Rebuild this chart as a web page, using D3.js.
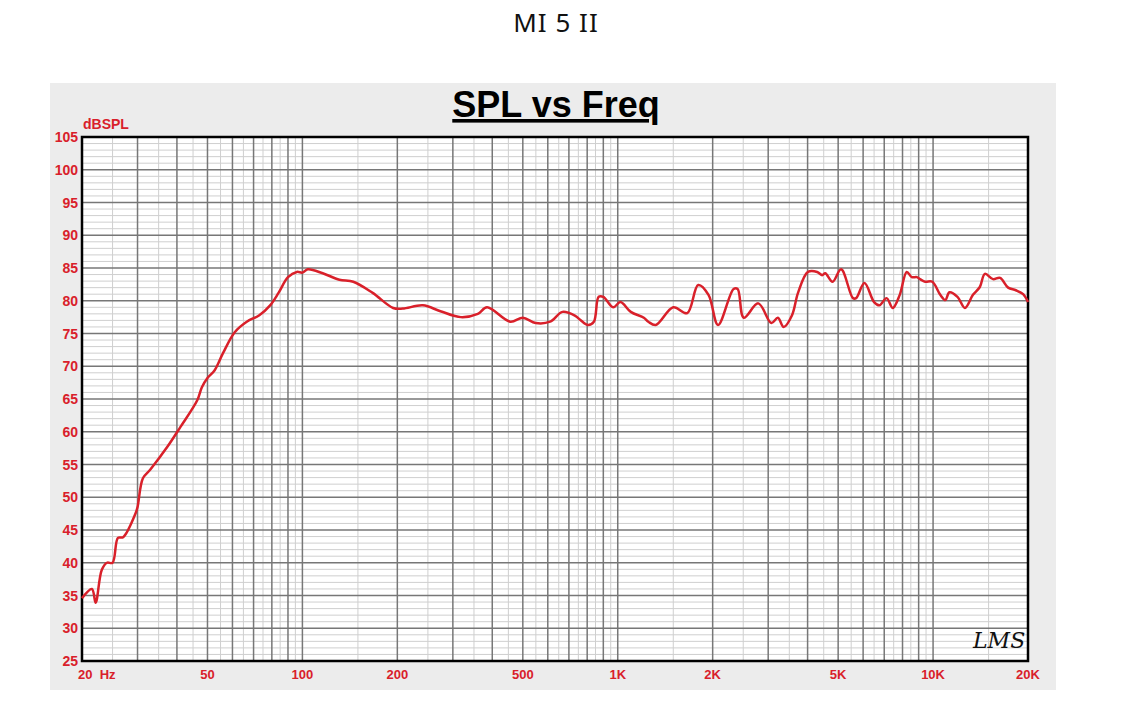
<!DOCTYPE html>
<html><head><meta charset="utf-8">
<script src="https://cdn.jsdelivr.net/npm/d3@7/dist/d3.min.js"></script>
<style>body{margin:0;background:#fff;}svg{display:block;}</style>
</head><body><svg id="c" width="1126" height="708"></svg>
<script>
const freqs=[20,21.5,22.1,23.1,24,25,26,27,29.6,30,31.2,32.9,37.3,41,46.4,48,50,52.7,56,61,66.6,73,79,84,90,96,100,104,116,131,145,167,194,208,241,274,318,360,385,456,500,549,610,668,733,760,805,840,870,900,967,1020,1100,1210,1250,1320,1500,1660,1800,1940,2080,2330,2400,2510,2790,3070,3220,3360,3570,3730,4010,4290,4450,4550,4800,5110,5570,5700,6060,6500,6760,7120,7450,7840,8250,8560,8880,9090,9440,9940,10540,10930,11270,11950,12620,13380,14070,14600,15490,16310,17300,18300,19300,20000];
const spl=[34.6,36.0,33.9,38.9,40.0,40.0,43.8,43.9,47.6,48.5,52.9,54.2,57.7,60.7,64.8,66.8,68.2,69.4,72.0,75.2,76.8,77.8,79.3,81.2,83.6,84.4,84.3,84.8,84.2,83.2,82.9,81.2,78.9,78.8,79.3,78.4,77.5,78.0,79.0,76.8,77.4,76.6,76.8,78.3,77.7,77.1,76.3,76.8,80.6,80.6,79.0,79.8,78.3,77.4,76.8,76.3,79.0,78.1,82.4,80.9,76.3,81.8,81.8,77.4,79.6,76.6,77.4,76.0,77.8,81.2,84.4,84.4,83.9,84.2,82.9,84.8,80.4,80.4,82.7,79.8,79.3,80.4,78.9,80.9,84.4,83.6,83.6,83.3,82.9,82.9,80.9,80.1,81.3,80.6,78.9,80.9,82.1,84.1,83.3,83.5,82.0,81.6,81.0,79.8];
const yTicks=[25,30,35,40,45,50,55,60,65,70,75,80,85,90,95,100,105];
const xTickVals=[20,50,100,200,500,1000,2000,5000,10000,20000];
const xTickLabels=["20  Hz","50","100","200","500","1K","2K","5K","10K","20K"];

const svg=d3.select("#c");
const L=82,R=1028,T=137,B=661;
const x=d3.scaleLog().domain([20,20000]).range([L,R]);
const y=d3.scaleLinear().domain([25,105]).range([B,T]);
svg.append("rect").attr("x",50).attr("y",83).attr("width",1006).attr("height",607).attr("fill","#ececec");
svg.append("text").attr("x",556).attr("y",32).attr("text-anchor","middle").attr("font-family","Noto Sans").attr("font-size",26).attr("font-weight",400).attr("letter-spacing",1).attr("fill","#111").text("MI 5 II");
svg.append("text").attr("x",556).attr("y",117).attr("text-anchor","middle").attr("font-family","Liberation Sans").attr("font-size",36).attr("font-weight","bold").attr("text-decoration","underline").attr("fill","#000").text("SPL vs Freq");
svg.append("rect").attr("x",L).attr("y",T).attr("width",R-L).attr("height",B-T).attr("fill","#fff");
const g=svg.append("g");
for(let v=25;v<=105;v++){ if(v%5) g.append("line").attr("x1",L).attr("x2",R).attr("y1",y(v)).attr("y2",y(v)).attr("stroke","#cfcfcf").attr("stroke-width",1);}
const minorF=[],majorF=[];
[10,100,1000,10000].forEach(d=>{for(let k=1;k<10;k++){const f=k*d; if(f>=20&&f<=20000) majorF.push(f); const h=(k+0.5)*d; if(h>20&&h<20000) minorF.push(h);}});
minorF.forEach(f=>g.append("line").attr("x1",x(f)).attr("x2",x(f)).attr("y1",T).attr("y2",B).attr("stroke","#cfcfcf"));
yTicks.forEach(v=>g.append("line").attr("x1",L).attr("x2",R).attr("y1",y(v)).attr("y2",y(v)).attr("stroke","#777").attr("stroke-width",1.5));
majorF.forEach(f=>g.append("line").attr("x1",x(f)).attr("x2",x(f)).attr("y1",T).attr("y2",B).attr("stroke","#777").attr("stroke-width",1.5));
svg.append("rect").attr("x",L).attr("y",T).attr("width",R-L).attr("height",B-T).attr("fill","none").attr("stroke","#000").attr("stroke-width",2.5);
const red="#d9202a";
svg.selectAll(".yt").data(yTicks).enter().append("text").attr("x",L-4).attr("y",d=>y(d)+5).attr("text-anchor","end").attr("font-family","Liberation Sans").attr("font-weight","bold").attr("font-size",14).attr("fill",red).text(d=>d);
svg.selectAll(".xt").data(xTickVals).enter().append("text").attr("x",(d,i)=>i==0?L-4:x(d)).attr("y",679).attr("text-anchor",(d,i)=>i==0?"start":"middle").attr("font-family","Liberation Sans").attr("font-weight","bold").attr("font-size",13).attr("fill",red).attr("xml:space","preserve").style("white-space","pre").text((d,i)=>xTickLabels[i]);
svg.append("text").attr("x",83).attr("y",129).attr("font-family","Liberation Sans").attr("font-weight","bold").attr("font-size",14).attr("fill",red).text("dBSPL");
svg.append("text").attr("x",973).attr("y",648).attr("font-family","DejaVu Serif").attr("font-style","italic").attr("font-size",22).attr("fill","#111").text("LMS");
const line=d3.line().x((d,i)=>x(freqs[i])).y(d=>y(d)).curve(d3.curveCatmullRom);
svg.append("path").attr("d",line(spl)).attr("fill","none").attr("stroke",red).attr("stroke-width",2.5);
</script></body></html>
